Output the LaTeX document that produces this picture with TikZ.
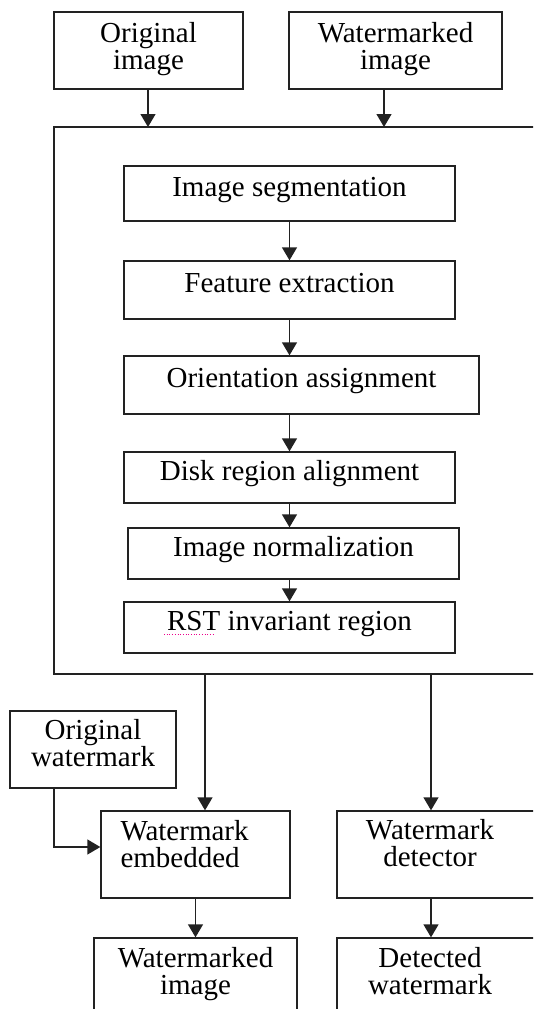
\documentclass[tikz,border=0pt]{standalone}
\usepackage{fontspec}
\setmainfont{Liberation Serif}
\usetikzlibrary{arrows.meta}
\definecolor{linec}{HTML}{222222}
\newcommand\diafont{\fontsize{29}{27}\selectfont}
\begin{document}
\begin{tikzpicture}[x=1pt,y=-1pt,
  box/.style={draw=linec, line width=1.35pt, rectangle, inner sep=0pt, font=\diafont, text=black},
  one/.style={text height=19pt, text depth=14pt},
  arr/.style={draw=linec, line width=1.35pt, -{Triangle[length=13pt,width=15pt]}},
  txt/.style={inner sep=0pt, font=\diafont, align=center, text=black},
]
\useasboundingbox (0,0) rectangle (533,1009);
\clip (0,0) rectangle (533,1009);

% top inputs
\node[box, minimum width=189pt, minimum height=77pt, text width=170pt, align=center,
      text height=19pt, text depth=36pt] (oimg) at (148.5,50.5) {Original\\image};
\node[box, minimum width=213pt, minimum height=77pt, text width=190pt, align=center,
      text height=19pt, text depth=36pt] (wimg) at (395.5,50.5) {Watermarked\\image};

% big frame
\node[box, minimum width=506pt, minimum height=547pt] (big) at (307,400.5) {};
\coordinate (inA) at (148,127);
\coordinate (inB) at (384,127);
\draw[arr] (inA |- oimg.south) -- (inA);
\draw[arr] (inB |- wimg.south) -- (inB);

% inner chain
\node[box, one, minimum width=331pt, minimum height=55pt] (seg)    at (289.5,193.5) {Image segmentation};
\node[box, one, minimum width=331pt, minimum height=58pt] (feat)   at (289.5,290)   {Feature extraction};
\node[box, one, minimum width=355pt, minimum height=58pt] (orient) at (301.5,385)   {Orientation assignment};
\node[box, one, minimum width=331pt, minimum height=51pt] (disk)   at (289.5,477.5) {Disk region alignment};
\node[box, one, minimum width=331pt, minimum height=51pt] (norm)   at (293.5,553.5) {Image normalization};
\node[box, one, minimum width=331pt, minimum height=51pt] (rst)    at (289.5,627.5) {RST invariant region};
\draw[magenta, dotted, line width=0.7pt] (164,634) -- (214,634);

\draw[arr] (seg.south) -- (feat.north);
\draw[arr] (feat.south) -- (feat.south |- orient.north);
\draw[arr] (disk.north |- orient.south) -- (disk.north);
\draw[arr] (disk.south) -- (disk.south |- norm.north);
\draw[arr] (rst.north |- norm.south) -- (rst.north);

% outputs
\coordinate (outA) at (205,674);
\coordinate (outB) at (431,674);

\node[box, minimum width=166pt, minimum height=77pt, text width=150pt, align=center,
      text height=19pt, text depth=40pt] (owm) at (93,749.5) {Original\\watermark};
\node[box, minimum width=189pt, minimum height=87pt, text width=150pt, align=left, inner xsep=19.5pt,
      text height=19pt, text depth=48pt] (emb) at (195.5,854.5) {Watermark\\embedded};
\node[box, minimum width=223pt, minimum height=87pt] (det) at (448.5,854.5) {};
\node[txt, text width=150pt, text height=19pt, text depth=19pt] (dett) at (430,839) {Watermark\\detector};

\node[box, minimum width=203pt, minimum height=92pt, text width=185pt, align=center,
      text height=19pt, text depth=53pt] (wmi) at (195.5,984) {Watermarked\\image};
\node[box, minimum width=223pt, minimum height=92pt] (dwm) at (448.5,984) {};
\node[txt, text width=150pt, text height=19pt, text depth=19pt] (dwmt) at (430,967) {Detected\\watermark};

\draw[arr] (outA) -- (outA |- emb.north);
\draw[arr] (outB) -- (outB |- det.north);
\draw[arr] (emb.south) -- (emb.south |- wmi.north);
\draw[arr] (outB |- det.south) -- (outB |- dwm.north);
\coordinate (elbow) at (54,847);
\draw[arr] (elbow |- owm.south) -- (elbow) -- (elbow -| emb.west);
\end{tikzpicture}
\end{document}
